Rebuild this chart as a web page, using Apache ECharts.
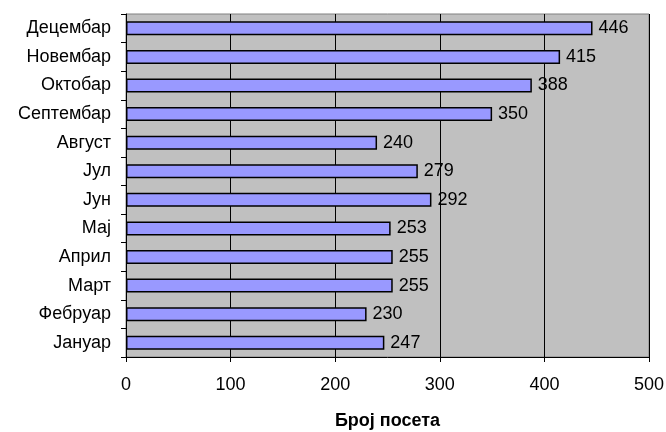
<!DOCTYPE html>
<html><head><meta charset="utf-8">
<script src="https://cdn.jsdelivr.net/npm/echarts@6/dist/echarts.min.js"></script>
<style>html,body{margin:0;padding:0;background:#fff}#c{width:666px;height:432px}</style>
</head><body><div id="c"></div>
<script>
const categories = ['Јануар','Фебруар','Март','Април','Мај','Јун','Јул','Август','Септембар','Октобар','Новембар','Децембар'];
const visits = [247,230,255,255,253,292,279,240,350,388,415,446];
const xTicks = [0,100,200,300,400,500];
const axisTitle = 'Број посета';

const chart = echarts.init(document.getElementById('c'), null, {renderer:'canvas'});
chart.setOption({
  animation:false,
  backgroundColor:'#ffffff',
  grid:{left:126,right:17,top:14,bottom:75,containLabel:false,outerBoundsMode:'none',show:true,backgroundColor:'#c0c0c0',borderColor:'#808080',borderWidth:1},
  xAxis:{type:'value',min:xTicks[0],max:xTicks[xTicks.length-1],interval:100,
    name:axisTitle,nameLocation:'middle',nameGap:55,
    nameTextStyle:{fontFamily:'Liberation Sans',fontWeight:'bold',fontSize:18,color:'#000'},
    axisLine:{show:true,lineStyle:{color:'#000',width:1}},
    axisTick:{show:true,length:5,lineStyle:{color:'#000'}},
    axisLabel:{fontFamily:'Liberation Sans',fontSize:18,color:'#000',margin:19},
    splitLine:{show:true,lineStyle:{color:'#000',width:1}}
  },
  yAxis:{type:'category',data:categories,
    axisLine:{show:true,lineStyle:{color:'#000',width:1}},
    axisTick:{show:true,length:5,inside:false,lineStyle:{color:'#000'}},
    axisLabel:{fontFamily:'Liberation Sans',fontSize:18,color:'#000',margin:15},
    splitLine:{show:false}
  },
  series:[{type:'bar',data:visits,barWidth:14,
    itemStyle:{color:'#9999ff',borderColor:'#000',borderWidth:1.5},
    label:{show:true,position:'right',distance:6,fontFamily:'Liberation Sans',fontSize:18,color:'#000'}
  }]
});
</script></body></html>
